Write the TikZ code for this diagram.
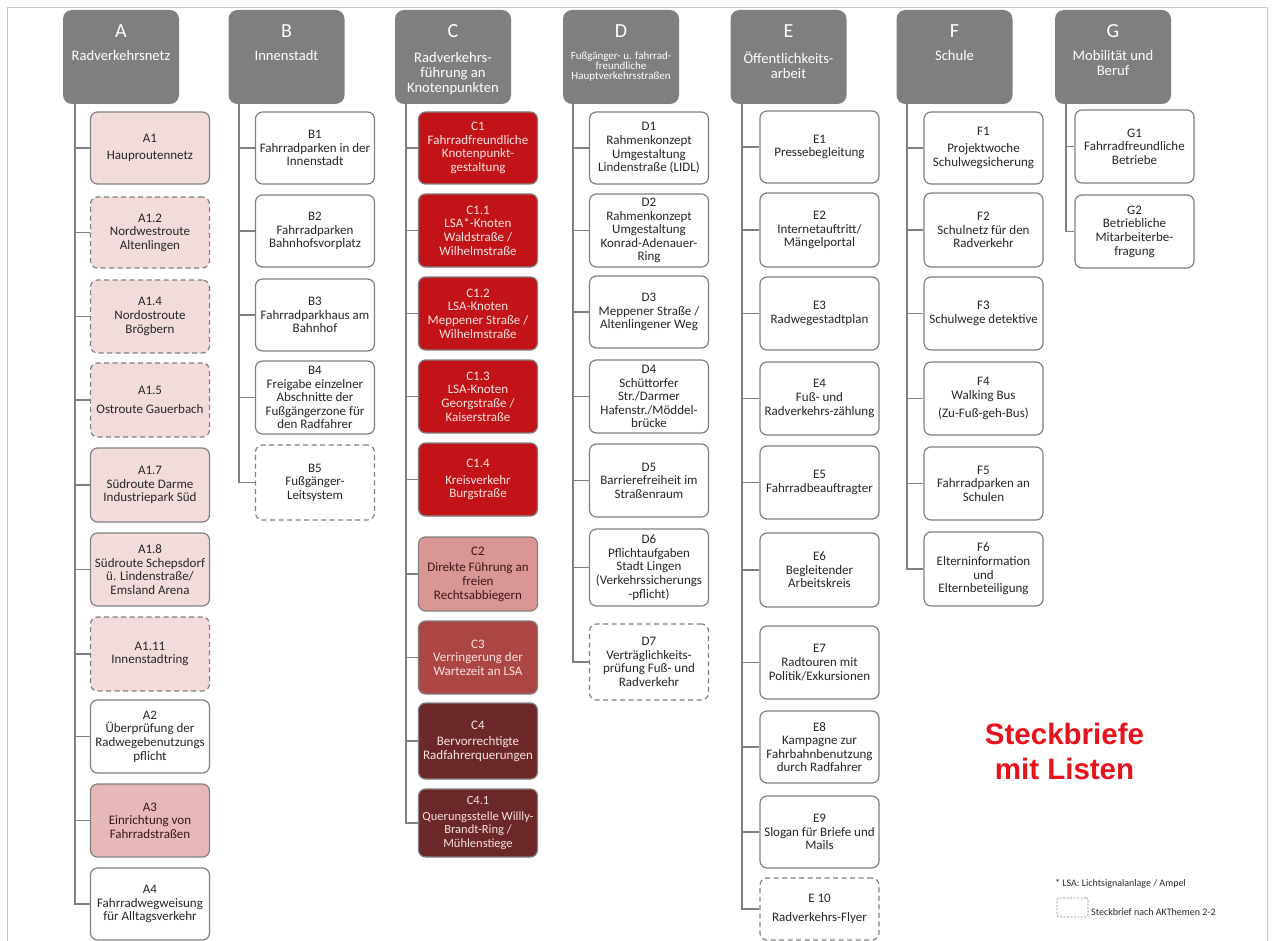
\documentclass[tikz,border=0pt]{standalone}
\usepackage{fontspec}
\setmainfont{Carlito}
\newfontfamily\headfont{Liberation Sans}

\definecolor{hdr}{RGB}{127,127,127}
\definecolor{edge}{RGB}{128,128,128}
\definecolor{pinkA}{RGB}{242,220,219}
\definecolor{pinkB}{RGB}{230,185,184}
\definecolor{redC}{RGB}{194,20,24}
\definecolor{roseC}{RGB}{217,150,148}
\definecolor{brickC}{RGB}{172,70,68}
\definecolor{maroonC}{RGB}{108,40,40}
\definecolor{txt}{RGB}{38,38,38}
\definecolor{lighttxt}{RGB}{246,226,225}
\definecolor{darkrose}{RGB}{60,22,22}
\definecolor{framegray}{RGB}{200,200,200}
\definecolor{signal}{RGB}{230,18,28}

\tikzset{
  item/.style={draw=edge, line width=1.2pt, rounded corners=7pt, fill=white,
    text=txt, align=center, inner sep=1pt, minimum width=119pt,
    font=\fontsize{13}{13.6}\selectfont},
  dashedbox/.style={dashed, dash pattern=on 5pt off 3.5pt},
  lightitem/.style={text=lighttxt},
  hdrbox/.style={fill=hdr, draw=none, rounded corners=9pt,
    minimum width=116pt, minimum height=94pt, inner sep=0pt},
  hdrletter/.style={text=white, font=\fontsize{20}{21}\selectfont, inner sep=0pt},
  hdrsub/.style={text=white, align=center, inner sep=0pt, anchor=north,
    font=\fontsize{14.6}{15}\selectfont},
  conn/.style={draw=edge, line width=1.5pt},
  notetext/.style={anchor=base west, text=txt, inner sep=0pt,
    font=\fontsize{10}{11}\selectfont},
}

% #1 name, #2 centre x, #3 top, #4 bottom, #5 extra style, #6 text
\newcommand{\itm}[6]{%
  \node[item,#5,minimum height={#4-#3}] (#1) at (#2,{(#3+#4)/2}) {#6};}

\begin{document}
\begin{tikzpicture}[x=1pt,y=-1pt]
\useasboundingbox (0,0) rectangle (1273,941);

% page frame
\draw[framegray, line width=1pt] (7,950) -- (7,8) -- (1267,8) -- (1267,950);

% ---------- column headers ----------
\node[hdrbox] (hA) at (121,57) {};
\node[hdrletter] (lA) at (121,31) {A};
\node[hdrsub] (sA) at (121,50) {Radverkehrsnetz};

\node[hdrbox] (hB) at (286.5,57) {};
\node[hdrletter] (lB) at (286.5,31) {B};
\node[hdrsub] (sB) at (286.5,50) {Innenstadt};

\node[hdrbox] (hC) at (453,57) {};
\node[hdrletter] (lC) at (453,31) {C};
\node[hdrsub] (sC) at (453,52) {Radverkehrs-\\führung an\\Knotenpunkten};

\node[hdrbox] (hD) at (621,57) {};
\node[hdrletter] (lD) at (621,31) {D};
\node[hdrsub, font=\fontsize{11}{9.7}\selectfont] (sD) at (621,52)
  {Fußgänger- u. fahrrad-\\freundliche\\Hauptverkehrsstraßen};

\node[hdrbox] (hE) at (788.5,57) {};
\node[hdrletter] (lE) at (788.5,31) {E};
\node[hdrsub] (sE) at (788.5,52) {Öffentlichkeits-\\arbeit};

\node[hdrbox] (hF) at (954.5,57) {};
\node[hdrletter] (lF) at (954.5,31) {F};
\node[hdrsub] (sF) at (954.5,50) {Schule};

\node[hdrbox] (hG) at (1113,57) {};
\node[hdrletter] (lG) at (1113,31) {G};
\node[hdrsub] (sG) at (1113,50) {Mobilität und\\Beruf};

% ---------- column A ----------
\itm{A1}{150}{112}{184}{fill=pinkA}{A1\\[3pt]Hauproutennetz}
\itm{A12}{150}{197}{268}{fill=pinkA,dashedbox}{A1.2\\Nordwestroute\\Altenlingen}
\itm{A14}{150}{280}{353}{fill=pinkA,dashedbox}{A1.4\\Nordostroute\\Brögbern}
\itm{A15}{150}{363}{437}{fill=pinkA,dashedbox}{A1.5\\[5pt]Ostroute Gauerbach}
\itm{A17}{150}{448}{522}{fill=pinkA}{A1.7\\Südroute Darme\\Industriepark Süd}
\itm{A18}{150}{533}{606}{fill=pinkA}{A1.8\\Südroute Schepsdorf\\ü. Lindenstraße/\\Emsland Arena}
\itm{A111}{150}{617}{691}{fill=pinkA,dashedbox}{A1.11\\Innenstadtring}
\itm{A2}{150}{700}{773}{}{A2\\Überprüfung der\\Radwegebenutzungs\\pflicht}
\itm{A3}{150}{784}{857}{fill=pinkB,text=darkrose}{A3\\Einrichtung von\\Fahrradstraßen}
\itm{A4}{150}{868}{940}{}{A4\\Fahrradwegweisung\\für Alltagsverkehr}

% ---------- column B ----------
\itm{B1}{315}{112}{184}{}{B1\\Fahrradparken in der\\Innenstadt}
\itm{B2}{315}{195}{267}{}{B2\\Fahrradparken\\Bahnhofsvorplatz}
\itm{B3}{315}{279}{351}{}{B3\\Fahrradparkhaus am\\Bahnhof}
\itm{B4}{315}{361}{434}{}{B4\\Freigabe einzelner\\Abschnitte der\\Fußgängerzone für\\den Radfahrer}
\itm{B5}{315}{445}{520}{dashedbox}{B5\\Fußgänger-\\Leitsystem}

% ---------- column C ----------
\itm{C1}{478}{112}{184}{fill=redC,lightitem}{C1\\Fahrradfreundliche\\Knotenpunkt-\\gestaltung}
\itm{C11}{478}{194}{267}{fill=redC,lightitem}{C1.1\\LSA*-Knoten\\Waldstraße /\\Wilhelmstraße}
\itm{C12}{478}{277}{350}{fill=redC,lightitem}{C1.2\\LSA-Knoten\\Meppener Straße /\\Wilhelmstraße}
\itm{C13}{478}{360}{433}{fill=redC,lightitem}{C1.3\\LSA-Knoten\\Georgstraße /\\Kaiserstraße}
\itm{C14}{478}{443}{516}{fill=redC,lightitem}{C1.4\\[3pt]Kreisverkehr\\Burgstraße}
\itm{C2}{478}{537}{611}{fill=roseC,text=darkrose}{C2\\[3pt]Direkte Führung an\\freien\\Rechtsabbiegern}
\itm{C3}{478}{621}{694}{fill=brickC,lightitem}{C3\\Verringerung der\\Wartezeit an LSA}
\itm{C4}{478}{703}{779}{fill=maroonC,lightitem}{C4\\[3pt]Bervorrechtigte\\Radfahrerquerungen}
\itm{C41}{478}{789}{857}{fill=maroonC,lightitem,font=\fontsize{12.5}{13.4}\selectfont}{C4.1\\[2pt]Querungsstelle Willly-\\Brandt-Ring /\\Mühlenstiege}

% ---------- column D ----------
\itm{D1}{649}{112}{184}{}{D1\\Rahmenkonzept\\Umgestaltung\\Lindenstraße (LIDL)}
\itm{D2}{649}{194}{267}{}{D2\\Rahmenkonzept\\Umgestaltung\\Konrad-Adenauer-\\Ring}
\itm{D3}{649}{276}{348}{}{D3\\Meppener Straße /\\Altenlingener Weg}
\itm{D4}{649}{360}{433}{}{D4\\Schüttorfer\\Str./Darmer\\Hafenstr./Möddel-\\brücke}
\itm{D5}{649}{444}{517}{}{D5\\Barrierefreiheit im\\Straßenraum}
\itm{D6}{649}{529}{606}{}{D6\\Pflichtaufgaben\\Stadt Lingen\\(Verkehrssicherungs\\-pflicht)}
\itm{D7}{649}{624}{700}{dashedbox}{D7\\Verträglichkeits-\\prüfung Fuß- und\\Radverkehr}

% ---------- column E ----------
\itm{E1}{819.5}{111}{183}{}{E1\\Pressebegleitung}
\itm{E2}{819.5}{193}{267}{}{E2\\Internetauftritt/\\Mängelportal}
\itm{E3}{819.5}{277}{350}{}{E3\\Radwegestadtplan}
\itm{E4}{819.5}{362}{435}{}{E4\\Fuß- und\\Radverkehrs-zählung}
\itm{E5}{819.5}{446}{519}{}{E5\\Fahrradbeauftragter}
\itm{E6}{819.5}{533}{607}{}{E6\\Begleitender\\Arbeitskreis}
\itm{E7}{819.5}{626}{699}{}{E7\\Radtouren mit\\Politik/Exkursionen}
\itm{E8}{819.5}{711}{783}{}{E8\\Kampagne zur\\Fahrbahnbenutzung\\durch Radfahrer}
\itm{E9}{819.5}{796}{868}{}{E9\\Slogan für Briefe und\\Mails}
\itm{E10}{819.5}{878}{940}{dashedbox}{E 10\\[5pt]Radverkehrs-Flyer}

% ---------- column F ----------
\itm{F1}{983.5}{112}{184}{}{F1\\[3pt]Projektwoche\\Schulwegsicherung}
\itm{F2}{983.5}{193}{267}{}{F2\\Schulnetz für den\\Radverkehr}
\itm{F3}{983.5}{277}{350}{}{F3\\Schulwege detektive}
\itm{F4}{983.5}{362}{435}{}{F4\\Walking Bus\\[4pt](Zu-Fuß-geh-Bus)}
\itm{F5}{983.5}{447}{520}{}{F5\\Fahrradparken an\\Schulen}
\itm{F6}{983.5}{532}{606}{}{F6\\Elterninformation\\und\\Elternbeteiligung}

% ---------- column G ----------
\itm{G1}{1134.5}{110}{183}{}{G1\\Fahrradfreundliche\\Betriebe}
\itm{G2}{1134.5}{195}{268}{}{G2\\Betriebliche\\Mitarbeiterbe-\\fragung}

% ---------- tree connectors ----------
\coordinate (tA) at (75,104);
\coordinate (tB) at (239,104);
\coordinate (tC) at (406,104);
\coordinate (tD) at (573,104);
\coordinate (tE) at (742,104);
\coordinate (tF) at (907,104);
\coordinate (tG) at (1066,104);

\draw[conn] (tA) |- (A4.west);
\foreach \n in {A1,A12,A14,A15,A17,A18,A111,A2,A3}
  \draw[conn] (tA |- \n.west) -- (\n.west);
\draw[conn] (tB) |- (B5.west);
\foreach \n in {B1,B2,B3,B4}
  \draw[conn] (tB |- \n.west) -- (\n.west);
\draw[conn] (tC) |- (C41.west);
\foreach \n in {C1,C11,C12,C13,C14,C2,C3,C4}
  \draw[conn] (tC |- \n.west) -- (\n.west);
\draw[conn] (tD) |- (D7.west);
\foreach \n in {D1,D2,D3,D4,D5,D6}
  \draw[conn] (tD |- \n.west) -- (\n.west);
\draw[conn] (tE) |- (E10.west);
\foreach \n in {E1,E2,E3,E4,E5,E6,E7,E8,E9}
  \draw[conn] (tE |- \n.west) -- (\n.west);
\draw[conn] (tF) |- (F6.west);
\foreach \n in {F1,F2,F3,F4,F5}
  \draw[conn] (tF |- \n.west) -- (\n.west);
\draw[conn] (tG) |- (G2.west);
\draw[conn] (tG |- G1.west) -- (G1.west);

% ---------- title and legend ----------
\node[text=signal, align=center, font=\headfont\bfseries\fontsize{29.5}{35}\selectfont]
  (title) at (1064.5,751) {Steckbriefe\\mit Listen};

\node[notetext] (note) at (1055,886) {* LSA: Lichtsignalanlage / Ampel};
\node[draw=edge, line width=0.6pt, dashed, dash pattern=on 2pt off 1.5pt,
  rounded corners=2pt, minimum width=31pt, minimum height=19pt, inner sep=0pt]
  (legbox) at (1072.5,907.5) {};
\node[notetext] (legtext) at (1091,915) {Steckbrief nach AKThemen 2-2};
\end{tikzpicture}
\end{document}
